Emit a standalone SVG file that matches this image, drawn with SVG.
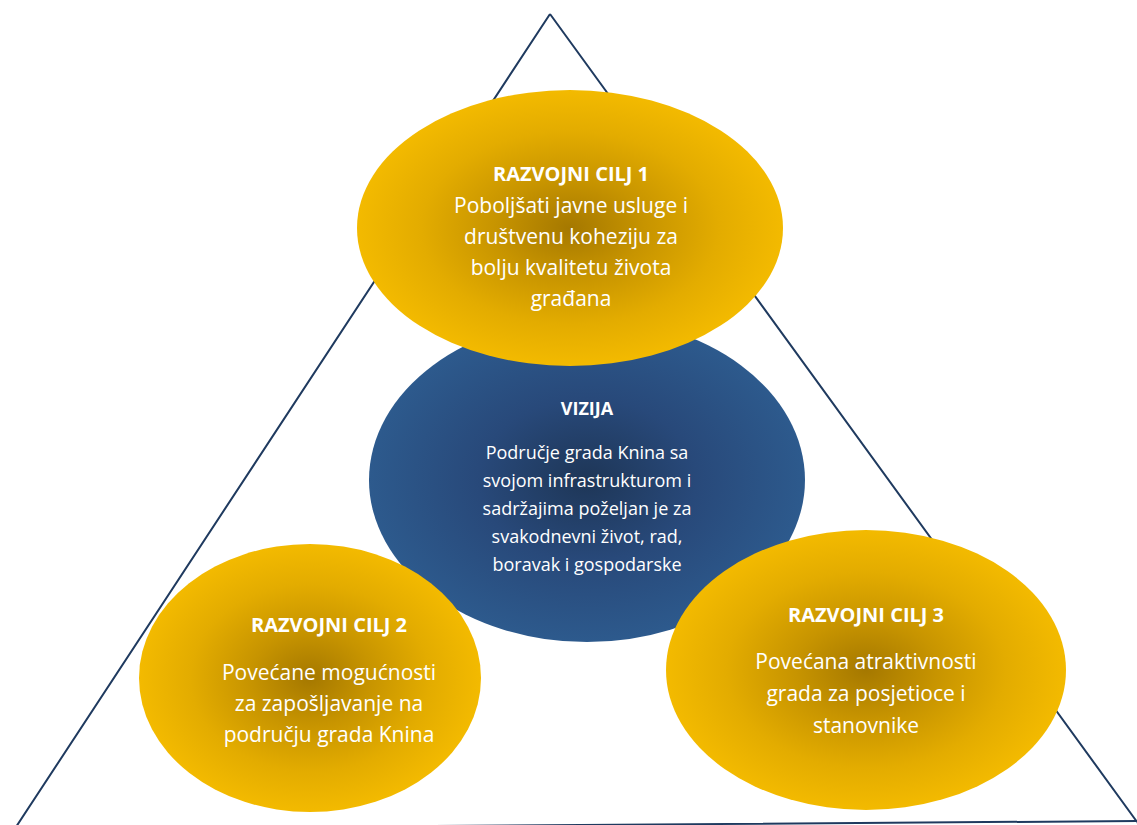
<svg xmlns="http://www.w3.org/2000/svg" width="1137" height="825" viewBox="0 0 1137 825">
<defs>
<radialGradient id="gold" cx="0.5" cy="0.5" r="0.5">
<stop offset="0" stop-color="#A57800"/>
<stop offset="0.35" stop-color="#C79400"/>
<stop offset="0.7" stop-color="#E3AC00"/>
<stop offset="1" stop-color="#F3BA00"/>
</radialGradient>
<radialGradient id="blue" cx="0.5" cy="0.5" r="0.5">
<stop offset="0" stop-color="#1E3657"/>
<stop offset="0.5" stop-color="#28497A"/>
<stop offset="1" stop-color="#2D5A8D"/>
</radialGradient>
<style>
.tri{fill:none;stroke:#1F3A5F;stroke-width:2}
.g{fill:url(#gold)}
.b{fill:url(#blue)}
text{font-family:"Open Sans","Noto Sans",sans-serif;fill:#ffffff;text-anchor:middle}
.h{font-weight:bold;font-size:20px}
.t{font-size:21px}
.hv{font-weight:bold;font-size:18px}
.tv{font-size:18px}
</style>
</defs>
<g id="connectors">
<path class="tri" d="M550,14 L14,830 M550,14 L1140,826 M10,829 L1140,821"/>
</g>
<g id="vizija">
<ellipse class="b" cx="587" cy="480" rx="218" ry="162"/>
<text class="hv" x="587" y="415">VIZIJA</text>
<text class="tv" x="587" y="459">Područje grada Knina sa</text>
<text class="tv" x="587" y="487">svojom infrastrukturom i</text>
<text class="tv" x="587" y="515">sadržajima poželjan je za</text>
<text class="tv" x="587" y="543">svakodnevni život, rad,</text>
<text class="tv" x="587" y="571">boravak i gospodarske</text>
</g>
<g id="cilj1">
<ellipse class="g" cx="570" cy="228" rx="213" ry="138"/>
<text class="h" x="571" y="181">RAZVOJNI CILJ 1</text>
<text class="t" x="571" y="213">Poboljšati javne usluge i</text>
<text class="t" x="571" y="244">društvenu koheziju za</text>
<text class="t" x="571" y="275">bolju kvalitetu života</text>
<text class="t" x="571" y="306">građana</text>
</g>
<g id="cilj2">
<ellipse class="g" cx="310" cy="678" rx="171" ry="134"/>
<text class="h" x="329" y="632">RAZVOJNI CILJ 2</text>
<text class="t" x="329" y="680">Povećane mogućnosti</text>
<text class="t" x="329" y="711">za zapošljavanje na</text>
<text class="t" x="329" y="742">području grada Knina</text>
</g>
<g id="cilj3">
<ellipse class="g" cx="866" cy="670" rx="200" ry="140"/>
<text class="h" x="866" y="622">RAZVOJNI CILJ 3</text>
<text class="t" x="866" y="669">Povećana atraktivnosti</text>
<text class="t" x="866" y="701">grada za posjetioce i</text>
<text class="t" x="866" y="733">stanovnike</text>
</g>
</svg>
